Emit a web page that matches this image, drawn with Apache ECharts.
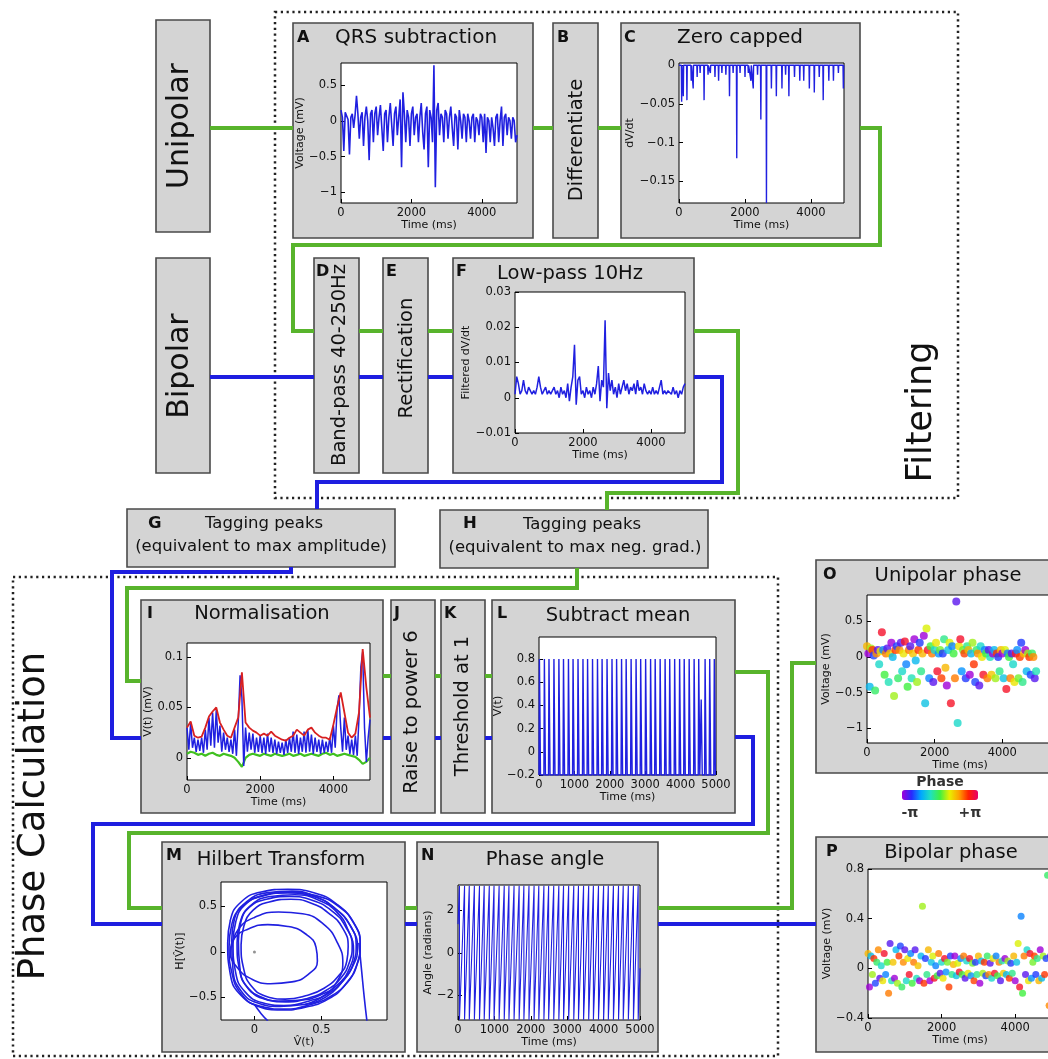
<!DOCTYPE html>
<html>
<head>
<meta charset="utf-8">
<script src="https://cdn.jsdelivr.net/npm/echarts@6.0.0/dist/echarts.min.js"></script>
<style>
html, body { margin: 0; padding: 0; background: #fff; }
#container { width: 1048px; height: 1059px; }
</style>
</head>
<body>
<div id="container"></div>
<script>
const chartIns = echarts.init(document.getElementById('container'), undefined, { renderer: 'canvas' });

const FONT = 'DejaVu Sans';
const SIG = '#2020e0';
const GREEN = '#58b42c';
const WIRE_BLUE = '#1e1ee0';

// A: QRS subtraction (unipolar, mV), one sample every 40 ms
const qrsStep = 40;
const qrsVoltage = [
  0.15, 0.05, -0.42, 0.12, 0.1, 0.02, -0.47, 0.05, 0.1, -0.1, 0.08, 0.35, 0.1, -0.25, 0.05, 0.12,
  -0.35, 0.05, 0.2, 0.0, -0.55, 0.1, 0.15, -0.3, 0.1, 0.2, -0.2, 0.05, 0.22, -0.1, -0.42, 0.1,
  0.15, -0.3, 0.05, 0.25, -0.05, -0.35, 0.1, 0.2, -0.2, 0.05, 0.3, -0.65, 0.4, 0.1, -0.3, 0.15,
  0.05, -0.35, 0.1, 0.2, -0.2, 0.05, 0.1, -0.3, 0.05, 0.25, -0.15, -0.4, 0.1, 0.2, -0.65, 0.15,
  0.05, -0.3, 0.78, -0.93, 0.15, 0.25, -0.2, 0.1, 0.05, -0.3, 0.15, 0.1, -0.25, 0.05, 0.2, -0.1,
  -0.35, 0.1, 0.05, -0.4, 0.15, 0.0, -0.25, 0.1, 0.05, -0.3, 0.1, 0.0, -0.25, 0.05, 0.1, -0.3,
  0.05, 0.0, -0.2, 0.1, 0.05, -0.3, 0.1, -0.45, 0.05, 0.0, -0.3, 0.05, -0.1, -0.35, 0.05, 0.1,
  -0.3, 0.0, 0.2, -0.35, 0.05, 0.1, -0.2, 0.05, 0.0, -0.25, 0.05, 0.0, -0.3, -0.2
];

// C: zero capped derivative, downward spikes (ms, dV/dt)
const capSpikeTimes = [80, 130, 240, 370, 430, 550, 640, 760, 880, 950, 1090, 1200, 1300, 1420, 1530,
  1640, 1750, 1850, 2000, 2100, 2180, 2250, 2380, 2480, 2650, 2800, 2950, 3120, 3230, 3330, 3500,
  3660, 3780, 3950, 4100, 4250, 4370, 4540, 4680, 4830, 4980];
const capSpikeDepths = [-0.047, -0.04, -0.045, -0.02, -0.03, -0.015, -0.01, -0.045, -0.012, -0.01,
  -0.015, -0.02, -0.01, -0.012, -0.04, -0.01, -0.12, -0.01, -0.015, -0.01, -0.02, -0.03, -0.012,
  -0.07, -0.178, -0.03, -0.04, -0.03, -0.012, -0.04, -0.015, -0.02, -0.02, -0.03, -0.035, -0.015,
  -0.045, -0.02, -0.02, -0.01, -0.03];

// F: low-pass 10 Hz, one sample every 50 ms
const lowPassStep = 50;
const lowPassValues = [
  0.001, 0.006, 0.004, 0.001, 0.002, 0.005, 0.002, 0.001, 0.003, 0.002, 0.001, 0.002, 0.001, 0.003,
  0.006, 0.003, 0.001, 0.002, 0.003, 0.001, 0.002, 0.001, 0.002, 0.003, 0.001, 0.002, 0.0, 0.003,
  0.001, 0.002, 0.0, 0.004, -0.001, 0.003, 0.006, 0.015, -0.002, 0.005, 0.006, 0.001, 0.002, 0.0,
  0.003, 0.001, 0.002, 0.0, 0.003, 0.001, 0.004, 0.009, -0.001, 0.005, 0.003, 0.022, -0.003, 0.007,
  0.002, 0.005, 0.001, 0.003, 0.0, 0.004, 0.001, 0.003, 0.005, 0.002, 0.004, 0.001, 0.003, 0.002,
  0.004, 0.001, 0.005, 0.002, 0.003, 0.001, 0.004, 0.002, 0.001, 0.002, 0.001, 0.003, 0.001, 0.002,
  0.001, 0.003, 0.005, 0.001, 0.002, 0.001, 0.002, 0.002, 0.001, 0.003, 0.001, 0.002, 0.0, 0.002,
  0.001, 0.003, 0.004
];

// I: normalisation, signal every 50 ms, envelopes every 100 ms
const normStep = 50;
const normSignal = [
  0.03, 0.008, 0.035, 0.01, 0.02, 0.006, 0.018, 0.007, 0.02, 0.005, 0.028, 0.008, 0.04, 0.012, 0.045,
  0.01, 0.048, 0.015, 0.032, 0.006, 0.025, 0.008, 0.02, 0.006, 0.018, 0.004, 0.028, 0.002, 0.035,
  0.082, 0.06, -0.008, 0.03, 0.006, 0.025, 0.008, 0.024, 0.005, 0.02, 0.006, 0.022, 0.005, 0.02,
  0.004, 0.024, 0.006, 0.02, 0.005, 0.018, 0.004, 0.016, 0.005, 0.015, 0.003, 0.018, 0.005, 0.02,
  0.006, 0.026, 0.005, 0.023, 0.004, 0.02, 0.006, 0.026, 0.005, 0.028, 0.006, 0.023, 0.004, 0.02,
  0.006, 0.018, 0.004, 0.018, 0.005, 0.016, 0.006, 0.02, 0.005, 0.032, 0.01, 0.048, 0.062, 0.03,
  0.006, 0.04, 0.008, 0.022, 0.004, 0.018, 0.003, 0.022, 0.002, 0.04, 0.09, 0.105, 0.03, -0.004,
  0.02, 0.038
];
const envStep = 100;
const normUpper = [
  0.03, 0.036, 0.022, 0.02, 0.021, 0.03, 0.041, 0.046, 0.05, 0.035, 0.028, 0.022, 0.02, 0.03, 0.04,
  0.085, 0.035, 0.03, 0.027, 0.025, 0.022, 0.024, 0.022, 0.026, 0.022, 0.02, 0.018, 0.017, 0.02,
  0.022, 0.028, 0.025, 0.022, 0.028, 0.03, 0.025, 0.022, 0.02, 0.02, 0.018, 0.033, 0.05, 0.065,
  0.045, 0.025, 0.02, 0.024, 0.045, 0.108, 0.07, 0.04
];
const normLower = [
  0.004, 0.006, 0.005, 0.003, 0.004, 0.002, 0.004, 0.005, 0.003, 0.002, 0.004, 0.003, 0.002, 0.0,
  -0.004, -0.009, 0.0, 0.003, 0.004, 0.003, 0.002, 0.004, 0.003, 0.002, 0.004, 0.003, 0.002, 0.003,
  0.004, 0.002, 0.003, 0.004, 0.002, 0.003, 0.004, 0.003, 0.002, 0.004, 0.005, 0.003, 0.004, 0.002,
  0.003, 0.004, 0.003, 0.002, 0.001, -0.002, -0.006, -0.004, 0.0
];

// L: subtract mean, pulse centres (ms) and pulse tops
const pulseTimes = [20, 160, 290, 430, 570, 700, 840, 970, 1110, 1250, 1380, 1520, 1660, 1790, 1930,
  2070, 2200, 2340, 2470, 2610, 2750, 2880, 3020, 3160, 3290, 3430, 3570, 3700, 3840, 3980, 4110,
  4250, 4390, 4520, 4590, 4700, 4830, 4960];
const pulseTops = [0.8, 0.8, 0.8, 0.8, 0.8, 0.8, 0.8, 0.8, 0.8, 0.8, 0.8, 0.8, 0.8, 0.8, 0.8, 0.8,
  0.8, 0.8, 0.8, 0.8, 0.8, 0.8, 0.8, 0.8, 0.8, 0.8, 0.8, 0.8, 0.8, 0.8, 0.8, 0.8, 0.8, 0.8, 0.45,
  0.8, 0.8, 0.8];
const pulseBase = -0.2;

// N: times (ms) where the phase wraps from +pi to -pi
const phaseWrapTimes = [40, 180, 310, 450, 590, 720, 860, 990, 1130, 1270, 1400, 1540, 1680, 1810,
  1950, 2090, 2220, 2360, 2490, 2630, 2770, 2900, 3040, 3180, 3310, 3450, 3590, 3720, 3860, 4000,
  4130, 4270, 4410, 4540, 4680, 4820, 4950];

// M: Hilbert transform trajectories [V(t), H[V(t)]]
const hilbertLoop1 = [[-0.2, 0.1], [-0.18, 0.35], [-0.1, 0.55], [0.05, 0.66], [0.25, 0.69], [0.45, 0.65],
  [0.62, 0.52], [0.74, 0.32], [0.79, 0.1], [0.77, -0.12], [0.7, -0.32], [0.58, -0.48], [0.42, -0.58],
  [0.22, -0.63], [0.05, -0.6], [-0.1, -0.48], [-0.18, -0.25], [-0.2, 0.1], [-0.18, 0.35]];
const hilbertLoop2 = [[-0.16, 0.1], [-0.14, 0.33], [-0.07, 0.52], [0.07, 0.62], [0.25, 0.65], [0.44, 0.61],
  [0.6, 0.48], [0.71, 0.3], [0.76, 0.08], [0.74, -0.12], [0.67, -0.3], [0.56, -0.45], [0.41, -0.54],
  [0.22, -0.59], [0.06, -0.56], [-0.07, -0.44], [-0.14, -0.23], [-0.16, 0.1], [-0.14, 0.33]];
const hilbertLoop3 = [[-0.13, 0.1], [-0.11, 0.31], [-0.04, 0.49], [0.09, 0.58], [0.26, 0.61], [0.43, 0.57],
  [0.58, 0.45], [0.68, 0.28], [0.73, 0.07], [0.71, -0.11], [0.65, -0.28], [0.54, -0.42], [0.4, -0.51],
  [0.23, -0.55], [0.08, -0.52], [-0.04, -0.41], [-0.11, -0.21], [-0.13, 0.1], [-0.11, 0.31]];
const hilbertLoop4 = [[-0.1, 0.08], [-0.08, 0.28], [-0.01, 0.46], [0.11, 0.55], [0.27, 0.58], [0.42, 0.54],
  [0.56, 0.42], [0.66, 0.26], [0.7, 0.06], [0.69, -0.1], [0.63, -0.26], [0.52, -0.4], [0.39, -0.48],
  [0.23, -0.52], [0.09, -0.49], [-0.02, -0.38], [-0.08, -0.19], [-0.1, 0.08], [-0.08, 0.28]];
const hilbertLoop5 = [[-0.19, 0.05], [-0.17, 0.3], [-0.09, 0.5], [0.06, 0.62], [0.25, 0.66], [0.46, 0.62],
  [0.63, 0.5], [0.75, 0.3], [0.79, 0.06], [0.76, -0.16], [0.68, -0.36], [0.55, -0.52], [0.38, -0.61],
  [0.2, -0.64], [0.03, -0.6], [-0.1, -0.46], [-0.17, -0.22], [-0.19, 0.05], [-0.17, 0.3]];
const hilbertLoop6 = [[-0.12, 0.12], [-0.1, 0.34], [-0.02, 0.52], [0.12, 0.61], [0.3, 0.63], [0.48, 0.57],
  [0.62, 0.43], [0.7, 0.24], [0.74, 0.02], [0.71, -0.18], [0.63, -0.35], [0.5, -0.47], [0.35, -0.53],
  [0.18, -0.54], [0.04, -0.49], [-0.06, -0.38], [-0.11, -0.16], [-0.12, 0.12], [-0.1, 0.34]];
const hilbertLoop7 = [[-0.17, 0.12], [-0.15, 0.36], [-0.06, 0.55], [0.09, 0.65], [0.28, 0.67], [0.47, 0.6],
  [0.61, 0.47], [0.72, 0.28], [0.77, 0.04], [0.73, -0.17], [0.65, -0.34], [0.53, -0.5], [0.37, -0.58],
  [0.19, -0.6], [0.02, -0.56], [-0.1, -0.43], [-0.16, -0.2], [-0.17, 0.12], [-0.15, 0.36]];
const hilbertSmall = [[-0.18, 0.0], [-0.15, 0.15], [-0.05, 0.25], [0.1, 0.3], [0.25, 0.28], [0.38, 0.2],
  [0.46, 0.05], [0.47, -0.1], [0.4, -0.25], [0.28, -0.33], [0.12, -0.35], [-0.02, -0.3], [-0.13, -0.17],
  [-0.18, 0.0], [-0.15, 0.15]];
const hilbertMid = [[-0.17, 0.05], [-0.12, 0.25], [0.0, 0.38], [0.18, 0.44], [0.36, 0.42], [0.52, 0.3],
  [0.62, 0.1], [0.66, -0.12], [0.62, -0.32], [0.52, -0.48], [0.38, -0.58]];
const hilbertTailRight = [[0.78, 0.1], [0.8, -0.2], [0.82, -0.5], [0.84, -0.76]];
const hilbertTailLeft = [[0.0, -0.58], [0.05, -0.68], [0.1, -0.76]];
const hilbertCentre = [[0.0, 0.0]];

// P: bipolar signal (mV), one sample every 40 ms
const bipolarStep = 40;
const bipolarVoltage = [
  0.12, -0.15, 0.1, -0.05, 0.08, -0.12, 0.05, 0.15, -0.08, 0.02, -0.1, 0.12, -0.05, 0.05, -0.2, 0.2,
  -0.1, 0.05, -0.08, 0.15, -0.12, 0.1, 0.18, -0.15, 0.05, 0.15, -0.1, 0.08, -0.05, 0.12, -0.12, 0.05,
  0.15, -0.08, 0.02, -0.1, 0.1, 0.5, -0.12, 0.08, -0.05, 0.15, -0.1, 0.05, 0.1, -0.08, 0.02, -0.06,
  0.12, -0.04, 0.05, -0.08, 0.08, -0.03, 0.05, -0.15, 0.1, -0.05, 0.03, 0.1, -0.06, 0.04, -0.03, 0.08,
  -0.05, 0.1, -0.08, 0.06, -0.04, 0.08, -0.06, 0.04, -0.1, 0.05, -0.05, 0.1, -0.12, 0.06, -0.04, 0.05,
  -0.06, 0.1, -0.05, 0.04, -0.08, 0.08, -0.04, 0.1, -0.06, 0.05, -0.1, 0.06, -0.04, 0.08, -0.05, 0.06,
  -0.08, 0.04, -0.04, 0.1, -0.1, 0.05, 0.2, -0.15, 0.42, -0.2, 0.1, -0.05, 0.15, -0.1, 0.12, -0.08,
  0.05, 0.1, -0.05, 0.08, -0.1, 0.15, -0.08, 0.1, -0.05, 0.08, 0.75, -0.3, 0.1, -0.05
];

const phaseColors = ['#a000d8', '#2828ff', '#00a8ff', '#20e0c0', '#40f040', '#e8f000', '#ffa000', '#ff2000', '#e8006a'];

// ---------- build series data ----------
function sampled(values, step) { return values.map((v, i) => [i * step, v]); }

function phaseAt(t) {
  const w = phaseWrapTimes;
  let i = 0;
  while (i < w.length && w[i] <= t) i++;
  let a, b;
  if (i === 0) { b = w[0]; a = b - (w[1] - w[0]); }
  else if (i === w.length) { a = w[w.length - 1]; b = a + (a - w[w.length - 2]); }
  else { a = w[i - 1]; b = w[i]; }
  return -Math.PI + 2 * Math.PI * (t - a) / (b - a);
}

const capData = [[0, 0]];
capSpikeTimes.forEach((t, i) => { capData.push([t - 10, 0], [t, capSpikeDepths[i]], [t + 10, 0]); });
capData.push([5000, 0]);

const pulseData = [[0, pulseBase]];
pulseTimes.forEach((t, i) => {
  pulseData.push([t - 22, pulseBase], [t - 8, pulseTops[i]], [t + 8, pulseTops[i]], [t + 22, pulseBase]);
});
pulseData.push([5000, pulseBase]);

const sawData = [[0, phaseAt(0)]];
phaseWrapTimes.forEach(t => { sawData.push([t, Math.PI], [t, -Math.PI]); });
sawData.push([5000, phaseAt(5000)]);

const uniPhaseData = qrsVoltage.map((v, i) => [i * qrsStep, v, phaseAt(i * qrsStep)]);
const biPhaseData = bipolarVoltage.map((v, i) => [i * bipolarStep, v, phaseAt(i * bipolarStep)]);

// ---------- axes helpers ----------
function fmt(v) { return String(+Number(v).toFixed(4)).replace('-', '\u2212'); }
const labelStyle = { fontFamily: FONT, fontSize: 11.5, color: '#111', margin: 4, formatter: fmt };
const nameStyle = { fontFamily: FONT, fontSize: 11, color: '#111' };

function xAxisFor(gi, min, max, ticks, name, gap) {
  return {
    type: 'value', gridIndex: gi, min: min, max: max,
    name: name, nameLocation: 'middle', nameGap: gap, nameTextStyle: nameStyle,
    axisLine: { show: false, onZero: false },
    axisTick: { inside: true, length: 4, customValues: ticks, lineStyle: { color: '#000' } },
    axisLabel: Object.assign({ customValues: ticks }, labelStyle),
    splitLine: { show: false }
  };
}
function yAxisFor(gi, min, max, ticks, name, gap) {
  return {
    type: 'value', gridIndex: gi, min: min, max: max,
    name: name, nameLocation: 'middle', nameGap: gap, nameRotate: 90, nameTextStyle: nameStyle,
    axisLine: { show: false, onZero: false },
    axisTick: { inside: true, length: 4, customValues: ticks, lineStyle: { color: '#000' } },
    axisLabel: Object.assign({ customValues: ticks }, labelStyle),
    splitLine: { show: false }
  };
}
function gridAt(left, top, width, height) {
  return { left: left, top: top, width: width, height: height, show: true, backgroundColor: '#fff',
    borderColor: '#000', borderWidth: 1, containLabel: false, outerBoundsMode: 'none' };
}

const grids = [
  gridAt(341, 63, 176, 140),   // A
  gridAt(679, 63, 165, 140),   // C
  gridAt(515, 292, 170, 141),  // F
  gridAt(187, 643, 183, 137),  // I
  gridAt(539, 637, 177, 138),  // L
  gridAt(221, 882, 166, 138),  // M
  gridAt(458, 885, 182, 135),  // N
  gridAt(867, 595, 186, 148),  // O
  gridAt(868, 869, 184, 149)   // P
];

const t3 = [0, 2000, 4000];
const t5 = [0, 1000, 2000, 3000, 4000, 5000];
const xAxes = [
  xAxisFor(0, 0, 5000, t3, 'Time (ms)', 14),
  xAxisFor(1, 0, 5000, t3, 'Time (ms)', 14),
  xAxisFor(2, 0, 5000, t3, 'Time (ms)', 14),
  xAxisFor(3, 0, 5000, t3, 'Time (ms)', 14),
  xAxisFor(4, 0, 5000, t5, 'Time (ms)', 14),
  xAxisFor(5, -0.25, 0.99, [0, 0.5, 1], 'V\u0302(t)', 15),
  xAxisFor(6, 0, 5000, t5, 'Time (ms)', 13),
  xAxisFor(7, 0, 5500, t3, 'Time (ms)', 14),
  xAxisFor(8, 0, 5000, t3, 'Time (ms)', 14)
];
const yAxes = [
  yAxisFor(0, -1.15, 0.81, [-1, -0.5, 0, 0.5], 'Voltage (mV)', 26),
  yAxisFor(1, -0.178, 0.003, [-0.15, -0.1, -0.05, 0], 'dV/dt', 38),
  yAxisFor(2, -0.01, 0.03, [-0.01, 0, 0.01, 0.02, 0.03], 'Filtered dV/dt', 38),
  yAxisFor(3, -0.022, 0.114, [0, 0.05, 0.1], 'V(t) (mV)', 30),
  yAxisFor(4, -0.2, 0.99, [-0.2, 0, 0.2, 0.4, 0.6, 0.8], 'V(t)', 28),
  yAxisFor(5, -0.75, 0.77, [-0.5, 0, 0.5], 'H[V\u0302(t)]', 30),
  yAxisFor(6, -3.15, 3.18, [-2, 0, 2], 'Angle (radians)', 16),
  yAxisFor(7, -1.21, 0.873, [-1, -0.5, 0, 0.5], 'Voltage (mV)', 30),
  yAxisFor(8, -0.4, 0.8, [-0.4, 0, 0.4, 0.8], 'Voltage (mV)', 26)
];

function lineOn(gi, data, color, width, smooth) {
  return { type: 'line', xAxisIndex: gi, yAxisIndex: gi, data: data, showSymbol: false, symbol: 'none',
    smooth: smooth || false, lineStyle: { color: color, width: width || 1.2 }, silent: true, clip: true };
}

const series = [
  lineOn(0, sampled(qrsVoltage, qrsStep), SIG, 1.6),
  lineOn(1, capData, SIG, 1.4),
  lineOn(2, sampled(lowPassValues, lowPassStep), SIG, 1.5),
  lineOn(3, sampled(normLower, envStep), '#40c020', 2.2),
  lineOn(3, sampled(normSignal, normStep), SIG, 1.5),
  lineOn(3, sampled(normUpper, envStep), '#d82020', 1.8),
  lineOn(4, pulseData, SIG, 1.4)
];
[hilbertLoop1, hilbertLoop2, hilbertLoop3, hilbertLoop4, hilbertLoop5, hilbertLoop6, hilbertLoop7, hilbertSmall,
  hilbertMid, hilbertTailRight, hilbertTailLeft].forEach(loop => series.push(lineOn(5, loop, SIG, 1.6, 0.5)));
series.push({ type: 'scatter', xAxisIndex: 5, yAxisIndex: 5, data: hilbertCentre, symbolSize: 3,
  itemStyle: { color: '#777' }, silent: true });
series.push(lineOn(6, sawData, SIG, 1.1));
const uniIdx = series.length;
series.push({ type: 'scatter', xAxisIndex: 7, yAxisIndex: 7, data: uniPhaseData, symbolSize: 8, silent: true, clip: true });
const biIdx = series.length;
series.push({ type: 'scatter', xAxisIndex: 8, yAxisIndex: 8, data: biPhaseData, symbolSize: 7, silent: true, clip: true });

// ---------- flowchart graphics ----------
const BOX_FILL = '#d4d4d4';
const BOX_EDGE = '#4a4a4a';
const g = [];
function box(x, y, w, h) {
  g.push({ type: 'rect', z: -10, shape: { x: x, y: y, width: w, height: h },
    style: { fill: BOX_FILL, stroke: BOX_EDGE, lineWidth: 1.6 } });
}
function dotted(x, y, w, h) {
  g.push({ type: 'rect', z: -12, shape: { x: x, y: y, width: w, height: h },
    style: { fill: null, stroke: '#222', lineWidth: 2.5, lineDash: [2.2, 3.6] } });
}
function wire(points, color) {
  g.push({ type: 'polyline', z: -8, shape: { points: points },
    style: { stroke: color, lineWidth: 4, fill: null, lineJoin: 'miter' } });
}
function label(x, y, text, size, opts) {
  opts = opts || {};
  g.push({ type: 'text', z: 20, x: x, y: y, rotation: opts.rot || 0,
    style: { text: text, fontSize: size, fontFamily: FONT, fontWeight: opts.bold ? 'bold' : 'normal',
      fill: opts.color || '#111', align: opts.align || 'center', textAlign: opts.align || 'center',
      verticalAlign: 'middle', textVerticalAlign: 'middle' } });
}
const UP = Math.PI / 2;

dotted(275, 12, 683, 486);
dotted(13, 577, 765, 479);

box(156, 20, 54, 212);   // Unipolar
box(156, 258, 54, 215);  // Bipolar
box(293, 23, 240, 215);  // A
box(553, 23, 45, 215);   // B
box(621, 23, 239, 215);  // C
box(314, 258, 45, 215);  // D
box(383, 258, 45, 215);  // E
box(453, 258, 241, 215); // F
box(127, 509, 268, 58);  // G
box(440, 510, 268, 58);  // H
box(141, 600, 242, 213); // I
box(391, 600, 44, 213);  // J
box(441, 600, 44, 213);  // K
box(492, 600, 243, 213); // L
box(162, 842, 243, 210); // M
box(417, 842, 241, 210); // N
box(816, 560, 260, 213); // O
box(816, 837, 260, 215); // P

// unipolar path
wire([[210, 128], [293, 128]], GREEN);
wire([[533, 128], [553, 128]], GREEN);
wire([[598, 128], [621, 128]], GREEN);
wire([[860, 128], [880, 128], [880, 245], [293, 245], [293, 331], [314, 331]], GREEN);
wire([[359, 331], [383, 331]], GREEN);
wire([[428, 331], [453, 331]], GREEN);
wire([[694, 331], [738, 331], [738, 493], [607, 493], [607, 510]], GREEN);
wire([[577, 568], [577, 588], [127, 588], [127, 681], [141, 681]], GREEN);
wire([[383, 676], [391, 676]], GREEN);
wire([[435, 676], [441, 676]], GREEN);
wire([[485, 676], [492, 676]], GREEN);
wire([[735, 672], [768, 672], [768, 833], [129, 833], [129, 908], [162, 908]], GREEN);
wire([[405, 908], [417, 908]], GREEN);
wire([[658, 908], [792, 908], [792, 663], [816, 663]], GREEN);
// bipolar path
wire([[210, 377], [314, 377]], WIRE_BLUE);
wire([[359, 377], [383, 377]], WIRE_BLUE);
wire([[428, 377], [453, 377]], WIRE_BLUE);
wire([[694, 377], [722, 377], [722, 482], [317, 482], [317, 509]], WIRE_BLUE);
wire([[291, 567], [291, 572], [112, 572], [112, 738], [141, 738]], WIRE_BLUE);
wire([[383, 738], [391, 738]], WIRE_BLUE);
wire([[435, 738], [441, 738]], WIRE_BLUE);
wire([[485, 738], [492, 738]], WIRE_BLUE);
wire([[735, 737], [753, 737], [753, 824], [93, 824], [93, 924], [162, 924]], WIRE_BLUE);
wire([[405, 924], [417, 924]], WIRE_BLUE);
wire([[658, 924], [816, 924]], WIRE_BLUE);

// big labels
label(180, 126, 'Unipolar', 30, { rot: UP });
label(180, 366, 'Bipolar', 30, { rot: UP });
label(922, 412, 'Filtering', 35, { rot: UP });
label(34, 816, 'Phase Calculation', 37, { rot: UP });

// panel titles
const TS = 19.5;
const GS = 16.5;
label(297, 38, 'A', 16, { bold: true, align: 'left' });
label(416, 38, 'QRS subtraction', 20);
label(557, 38, 'B', 16, { bold: true, align: 'left' });
label(577, 140, 'Differentiate', TS, { rot: UP });
label(624, 38, 'C', 16, { bold: true, align: 'left' });
label(740, 38, 'Zero capped', 20);
label(316, 272, 'D', 16, { bold: true, align: 'left' });
label(340, 365, 'Band-pass 40-250Hz', TS, { rot: UP });
label(386, 272, 'E', 16, { bold: true, align: 'left' });
label(407, 358, 'Rectification', TS, { rot: UP });
label(456, 272, 'F', 16, { bold: true, align: 'left' });
label(570, 274, 'Low-pass 10Hz', TS);
label(148, 524, 'G', 16.5, { bold: true, align: 'left' });
label(264, 524, 'Tagging peaks', GS);
label(261, 547, '(equivalent to max amplitude)', GS);
label(463, 524, 'H', 16.5, { bold: true, align: 'left' });
label(582, 525, 'Tagging peaks', GS);
label(575, 548, '(equivalent to max neg. grad.)', GS);
label(147, 614, 'I', 16, { bold: true, align: 'left' });
label(262, 614, 'Normalisation', TS);
label(394, 614, 'J', 16, { bold: true, align: 'left' });
label(412, 712, 'Raise to power 6', TS, { rot: UP });
label(444, 614, 'K', 16, { bold: true, align: 'left' });
label(463, 706, 'Threshold at 1', TS, { rot: UP });
label(497, 614, 'L', 16, { bold: true, align: 'left' });
label(618, 616, 'Subtract mean', TS);
label(166, 856, 'M', 16, { bold: true, align: 'left' });
label(281, 860, 'Hilbert Transform', TS);
label(421, 856, 'N', 16, { bold: true, align: 'left' });
label(545, 860, 'Phase angle', TS);
label(823, 575, 'O', 16, { bold: true, align: 'left' });
label(948, 576, 'Unipolar phase', TS);
label(826, 852, 'P', 16, { bold: true, align: 'left' });
label(951, 853, 'Bipolar phase', TS);

// colour bar captions
label(940, 782, 'Phase', 14, { bold: true, color: '#333' });
label(910, 813, '-\u03c0', 14, { bold: true, color: '#333' });
label(970, 813, '+\u03c0', 14, { bold: true, color: '#333' });

const option = {
  backgroundColor: '#fff',
  animation: false,
  grid: grids,
  xAxis: xAxes,
  yAxis: yAxes,
  series: series,
  graphic: { elements: g },
  visualMap: {
    type: 'continuous', min: -Math.PI, max: Math.PI, dimension: 2, seriesIndex: [uniIdx, biIdx],
    orient: 'horizontal', left: 902, top: 790, itemWidth: 10, itemHeight: 76, padding: 0,
    calculable: false, showLabel: false, text: null, realtime: false,
    inRange: { color: phaseColors }
  }
};

chartIns.setOption(option);
</script>
</body>
</html>
